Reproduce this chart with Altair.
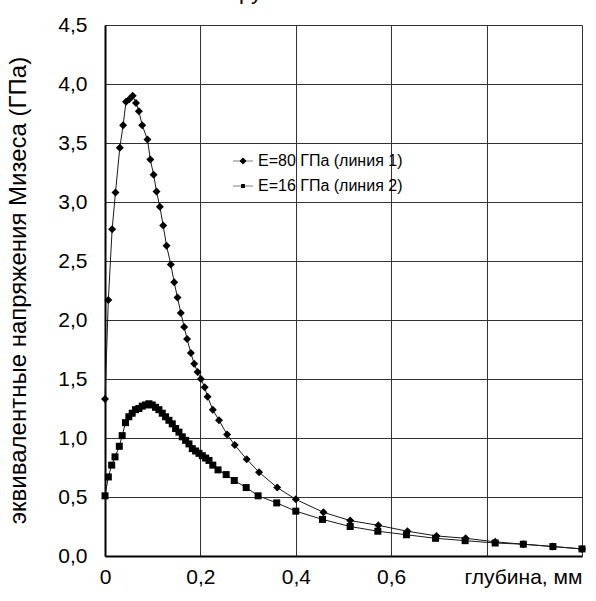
import altair as alt
import pandas as pd

# Series 1: E=80 ГПа (линия 1)
x1 = [0, 0.007, 0.015, 0.022, 0.031, 0.038, 0.044, 0.051, 0.058, 0.065,
      0.071, 0.078, 0.089, 0.095, 0.102, 0.108, 0.115, 0.122, 0.129, 0.138,
      0.145, 0.152, 0.159, 0.166, 0.172, 0.180, 0.187, 0.194, 0.201, 0.209,
      0.215, 0.226, 0.239, 0.256, 0.272, 0.297, 0.323, 0.361, 0.400, 0.458,
      0.514, 0.573, 0.634, 0.695, 0.756, 0.818, 0.877, 0.939, 1.0]
y1 = [1.33, 2.17, 2.77, 3.08, 3.46, 3.65, 3.85, 3.87, 3.90, 3.84,
      3.77, 3.65, 3.53, 3.36, 3.23, 3.09, 2.96, 2.80, 2.63, 2.47,
      2.32, 2.19, 2.06, 1.94, 1.84, 1.72, 1.63, 1.56, 1.50, 1.43,
      1.35, 1.24, 1.15, 1.03, 0.94, 0.82, 0.71, 0.58, 0.48, 0.37,
      0.30, 0.26, 0.21, 0.17, 0.15, 0.12, 0.10, 0.08, 0.06]

# Series 2: E=16 ГПа (линия 2)
x2 = [0, 0.007, 0.014, 0.021, 0.030, 0.036, 0.043, 0.050, 0.057, 0.064,
      0.071, 0.078, 0.085, 0.092, 0.099, 0.106, 0.113, 0.120, 0.127, 0.134,
      0.141, 0.148, 0.155, 0.162, 0.169, 0.176, 0.183, 0.190, 0.197, 0.204,
      0.211, 0.218, 0.226, 0.237, 0.254, 0.271, 0.296, 0.321, 0.360, 0.400,
      0.456, 0.514, 0.572, 0.632, 0.693, 0.755, 0.818, 0.877, 0.939, 1.0]
y2 = [0.51, 0.67, 0.77, 0.84, 0.93, 1.02, 1.13, 1.18, 1.21, 1.24,
      1.25, 1.27, 1.28, 1.29, 1.28, 1.26, 1.24, 1.21, 1.18, 1.15,
      1.12, 1.08, 1.05, 1.01, 0.98, 0.95, 0.91, 0.89, 0.87, 0.85,
      0.83, 0.81, 0.77, 0.73, 0.69, 0.64, 0.58, 0.51, 0.45, 0.38,
      0.31, 0.25, 0.21, 0.18, 0.15, 0.13, 0.11, 0.10, 0.08, 0.06]

series_names = ["E=80 ГПа (линия 1)", "E=16 ГПа (линия 2)"]
x_title = "глубина, мм"
y_title = "эквивалентные напряжения Мизеса (ГПа)"
top_fragment = ["ру"]

rows = []
for i, (x, y) in enumerate(zip(x1, y1)):
    rows.append({"x": x, "y": y, "s": series_names[0], "i": i})
for i, (x, y) in enumerate(zip(x2, y2)):
    rows.append({"x": x, "y": y, "s": series_names[1], "i": i})
df = pd.DataFrame(rows)

FONT = "Liberation Sans"

xenc = alt.X("x:Q", scale=alt.Scale(domain=[0, 1], nice=False),
             axis=alt.Axis(values=[0, 0.2, 0.4, 0.6, 0.8, 1.0],
                           labelExpr="datum.value == 0 ? '0' : (datum.value > 0.7 ? '' : replace(format(datum.value, '.1f'), '.', ','))",
                           labelFont=FONT, labelFontSize=21, labelColor="black",
                           labelBaseline="middle", labelPadding=21,
                           labelFlush=False,
                           ticks=False, domainColor="black", domainWidth=2,
                           gridColor="#333333", gridWidth=1,
                           title=x_title, titleFont=FONT, titleFontSize=21,
                           titleFontWeight="normal", titleColor="black",
                           titleX=418, titleY=21, titleAlign="center",
                           titleBaseline="middle"))
yenc = alt.Y("y:Q", scale=alt.Scale(domain=[0, 4.5], nice=False),
             axis=alt.Axis(values=[0, 0.5, 1, 1.5, 2, 2.5, 3, 3.5, 4, 4.5],
                           labelExpr="replace(format(datum.value, '.1f'), '.', ',')",
                           labelFont=FONT, labelFontSize=21, labelColor="black",
                           labelPadding=18, labelFlush=False,
                           ticks=False, domainColor="black", domainWidth=2,
                           gridColor="#333333", gridWidth=1,
                           title=y_title, titleFont=FONT, titleFontSize=24,
                           titleFontWeight="normal", titleColor="black",
                           titleX=-87, titleY=265, titleAngle=-90,
                           titleAlign="center", titleBaseline="middle"))

base = alt.Chart(df)

lines = base.mark_line(color="#1a1a1a", strokeWidth=1).encode(
    x=xenc, y=yenc, detail="s:N", order="i:Q")

points = base.mark_point(filled=True, color="black", opacity=1).encode(
    x="x:Q", y="y:Q",
    shape=alt.Shape("s:N", scale=alt.Scale(domain=series_names, range=["diamond", "square"]), legend=None),
    size=alt.Size("s:N", scale=alt.Scale(domain=series_names, range=[64, 49]), legend=None),
)

# legend symbols: a thin filled bar (the line) plus the marker, all filled shapes
leg_diamond = "M-1,-0.03L1,-0.03L1,0.03L-1,0.03ZM0,-0.36L0.36,0L0,0.36L-0.36,0Z"
leg_square = "M-1,-0.03L1,-0.03L1,0.03L-1,0.03ZM-0.19,-0.19L0.19,-0.19L0.19,0.19L-0.19,0.19Z"

legend_layer = base.mark_point(filled=True, color="black", opacity=1).encode(
    x="x:Q", y="y:Q",
    shape=alt.Shape("s:N", scale=alt.Scale(domain=series_names, range=[leg_diamond, leg_square]),
                    legend=alt.Legend(title=None, orient="none", legendX=127, legendY=125,
                                      symbolSize=400, symbolFillColor="black", symbolOpacity=1,
                                      labelFont=FONT, labelFontSize=16, labelColor="black",
                                      labelOffset=4, rowPadding=6, padding=0)),
).transform_filter("false")

frag = alt.Chart(pd.DataFrame({"t": top_fragment})).mark_text(
    align="left", baseline="alphabetic", font=FONT, fontSize=22, color="black"
).encode(text="t:N", x=alt.value(134), y=alt.value(-26))

chart = alt.layer(lines, points, legend_layer, frag).resolve_scale(
    shape="independent", size="independent"
).properties(
    width=477, height=531,
    autosize="none",
    padding={"left": 105, "top": 25, "right": 14, "bottom": 45},
).configure_view(stroke="#444444", strokeWidth=1).configure(background="white")

chart.save("out.html", embed_options={"renderer": "svg", "actions": False})
